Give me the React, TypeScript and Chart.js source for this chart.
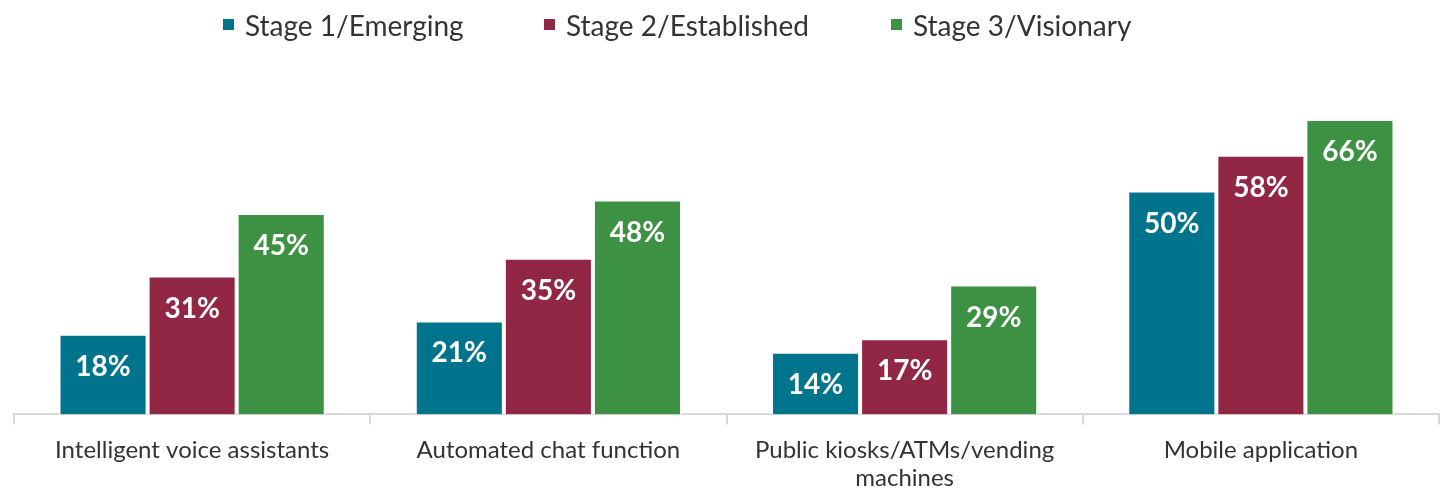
import React, { useEffect, useRef } from "react";
import { Chart, registerables } from "chart.js";

Chart.register(...registerables);

const categories: (string | string[])[] = [
  "Intelligent voice assistants",
  "Automated chat function",
  ["Public kiosks/ATMs/vending", "machines"],
  "Mobile application",
];
const seriesNames = ["Stage 1/Emerging", "Stage 2/Established", "Stage 3/Visionary"];
const stage1 = [18, 21, 14, 50];
const stage2 = [31, 35, 17, 58];
const stage3 = [45, 48, 29, 66];
const colors = ["#00748C", "#912645", "#3D9142"];
const legendX = [223, 544, 891];

const FONT = "Lato, 'Open Sans', sans-serif";

const labelPlugin = {
  id: "barLabels",
  afterDatasetsDraw(chart: any) {
    const ctx = chart.ctx;
    ctx.save();
    ctx.fillStyle = "#ffffff";
    ctx.font = `bold 28px ${FONT}`;
    ctx.textAlign = "center";
    ctx.textBaseline = "middle";
    chart.data.datasets.forEach((ds: any, i: number) => {
      const meta = chart.getDatasetMeta(i);
      meta.data.forEach((el: any, j: number) => {
        ctx.fillText(`${ds.data[j]}%`, el.x, el.y + 33);
      });
    });
    ctx.restore();
  },
};

export default function App() {
  const ref = useRef<HTMLCanvasElement>(null);
  useEffect(() => {
    document.body.style.margin = "0";
    const chart = new Chart(ref.current!, {
      type: "bar",
      data: {
        labels: categories,
        datasets: [stage1, stage2, stage3].map((d, i) => ({
          label: seriesNames[i],
          data: d,
          backgroundColor: colors[i],
          borderColor: "#ffffff",
          borderWidth: 2,
          borderSkipped: "start",
          barPercentage: 1,
          categoryPercentage: 0.75,
        })),
      },
      options: {
        responsive: true,
        maintainAspectRatio: false,
        animation: false,
        layout: { padding: { left: 14, right: 5, top: 101, bottom: -15 } },
        plugins: {
          legend: { display: false },
          tooltip: { enabled: false },
        },
        scales: {
          x: {
            grid: {
              offset: true,
              drawOnChartArea: false,
              drawTicks: true,
              tickLength: 10,
              color: "#d9d9d9",
              lineWidth: 2,
            },
            border: { display: true, color: "#d9d9d9", width: 2 },
            ticks: {
              color: "#333333",
              font: { family: FONT, size: 24, lineHeight: 1.2 },
              padding: 11,
              maxRotation: 0,
              autoSkip: false,
            },
          },
          y: {
            display: false,
            min: 0,
            max: 70,
          },
        },
      },
      plugins: [labelPlugin],
    });
    return () => chart.destroy();
  }, []);
  return (
    <div style={{ width: 1444, height: 489, position: "relative" }}>
      <canvas ref={ref} />
      <div style={{ position: "absolute", left: 0, top: 0, width: 1444, height: 50, pointerEvents: "none" }}>
        {seriesNames.map((name, i) => (
          <div key={name} style={{ position: "absolute", left: legendX[i], top: 0, height: 50 }}>
            <span
              style={{
                position: "absolute",
                left: 0,
                top: 19,
                width: 11,
                height: 11,
                background: colors[i],
              }}
            />
            <span
              style={{
                position: "absolute",
                left: 22,
                top: 11,
                whiteSpace: "nowrap",
                font: `28px ${FONT}`,
                lineHeight: "28px",
                color: "#333333",
              }}
            >
              {name}
            </span>
          </div>
        ))}
      </div>
    </div>
  );
}
